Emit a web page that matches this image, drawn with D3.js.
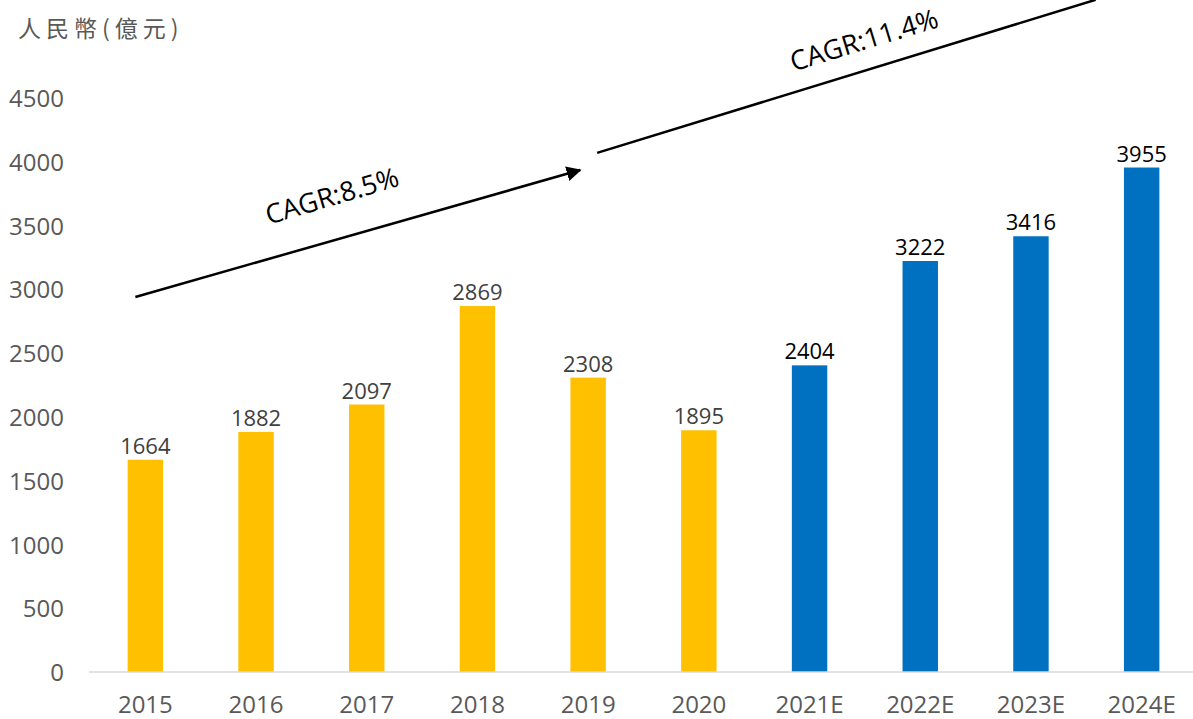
<!DOCTYPE html>
<html>
<head>
<meta charset="utf-8">
<script src="https://cdn.jsdelivr.net/npm/d3@7"></script>
<style>
  html, body { margin: 0; padding: 0; background: #fff; }
  svg { display: block; }
</style>
</head>
<body>
<script>
const years = ['2015', '2016', '2017', '2018', '2019', '2020', '2021E', '2022E', '2023E', '2024E']
const values = [1664, 1882, 2097, 2869, 2308, 1895, 2404, 3222, 3416, 3955]
const forecast = [false, false, false, false, false, false, true, true, true, true]
const yTicks = [0, 500, 1000, 1500, 2000, 2500, 3000, 3500, 4000, 4500]

// CAGR arrows, ends given as [category, shift in px, value]
const cagrLabels = ['CAGR:8.5%', 'CAGR:11.4%']
const cagrFrom = [['2015', -10, 2940], ['2019', 9, 4070]]
const cagrTo = [['2019', -8, 3935], ['2024E', -46, 5270]]

const width = 1193
const height = 719
const margin = { top: 98, right: 0, bottom: 47, left: 90 }

const svg = d3.select('body').append('svg')
    .attr('width', width)
    .attr('height', height)

const font = "'Open Sans', 'DejaVu Sans', sans-serif"

const xScale = d3.scaleBand()
    .domain(years)
    .range([margin.left, 1197])
    .paddingInner(0.68)
    .paddingOuter(0.34)

const yScale = d3.scaleLinear()
    .domain([0, 4500])
    .range([height - margin.bottom, margin.top])

// title
svg.append('text')
    .attr('x', 18)
    .attr('y', 37)
    .attr('fill', '#595959')
    .attr('font-family', "'Noto Sans CJK TC', sans-serif")
    .attr('font-size', 23)
    .attr('letter-spacing', 5)
    .text('人民幣(億元)')

// y axis, no line
const yAxis = svg.append('g')
    .attr('transform', `translate(${margin.left - 26},0)`)
    .call(d3.axisLeft(yScale).tickValues(yTicks).tickFormat(d3.format('d')).tickSize(0).tickPadding(0))
yAxis.select('.domain').remove()
yAxis.selectAll('text')
    .attr('fill', '#595959')
    .attr('font-family', font)
    .attr('font-size', 24)
    .attr('dy', '0.36em')

// bars
svg.selectAll('rect.bar')
    .data(years)
    .enter().append('rect')
    .attr('class', 'bar')
    .attr('x', d => xScale(d))
    .attr('width', xScale.bandwidth())
    .attr('y', (d, i) => yScale(values[i]))
    .attr('height', (d, i) => yScale(0) - yScale(values[i]))
    .attr('fill', (d, i) => forecast[i] ? '#0070C0' : '#FFC000')

// x axis
const xAxis = svg.append('g')
    .attr('transform', `translate(0,${yScale(0)})`)
    .call(d3.axisBottom(xScale).tickSize(0).tickPadding(24))
xAxis.select('.domain')
    .attr('stroke', '#d9d9d9')
    .attr('stroke-width', 1.5)
    .attr('d', `M${margin.left - 1},0H${width}`)
xAxis.selectAll('text')
    .attr('fill', '#595959')
    .attr('font-family', font)
    .attr('font-size', 24)
    .attr('dy', '0.71em')

// value labels
svg.selectAll('text.val')
    .data(years)
    .enter().append('text')
    .attr('class', 'val')
    .attr('x', d => xScale(d) + xScale.bandwidth() / 2)
    .attr('y', (d, i) => yScale(values[i]) - 6)
    .attr('text-anchor', 'middle')
    .attr('font-family', font)
    .attr('font-size', 22)
    .attr('fill', (d, i) => forecast[i] ? '#000' : '#404040')
    .text((d, i) => values[i])

// arrows
svg.append('defs').append('marker')
    .attr('id', 'head')
    .attr('viewBox', '0 0 10 10')
    .attr('refX', 9)
    .attr('refY', 5)
    .attr('markerWidth', 6)
    .attr('markerHeight', 6)
    .attr('markerUnits', 'strokeWidth')
    .attr('orient', 'auto')
    .append('path')
    .attr('d', 'M0,0L10,5L0,10z')
    .attr('fill', '#000')

const px = p => xScale(p[0]) + xScale.bandwidth() / 2 + p[1]
const py = p => yScale(p[2])

cagrLabels.forEach((label, i) => {
    const a = cagrFrom[i], b = cagrTo[i]
    svg.append('line')
        .attr('x1', px(a)).attr('y1', py(a))
        .attr('x2', px(b)).attr('y2', py(b))
        .attr('stroke', '#000')
        .attr('stroke-width', 2.5)
        .attr('marker-end', i === 0 ? 'url(#head)' : null)
})

const labelPos = [[332, 196, -16.5], [864, 40, -17]]
svg.selectAll('text.cagr')
    .data(cagrLabels)
    .enter().append('text')
    .attr('class', 'cagr')
    .attr('transform', (d, i) => `translate(${labelPos[i][0]},${labelPos[i][1]}) rotate(${labelPos[i][2]})`)
    .attr('text-anchor', 'middle')
    .attr('dy', '0.35em')
    .attr('font-family', font)
    .attr('font-size', 27)
    .attr('fill', '#000')
    .text(d => d)
</script>
</body>
</html>
